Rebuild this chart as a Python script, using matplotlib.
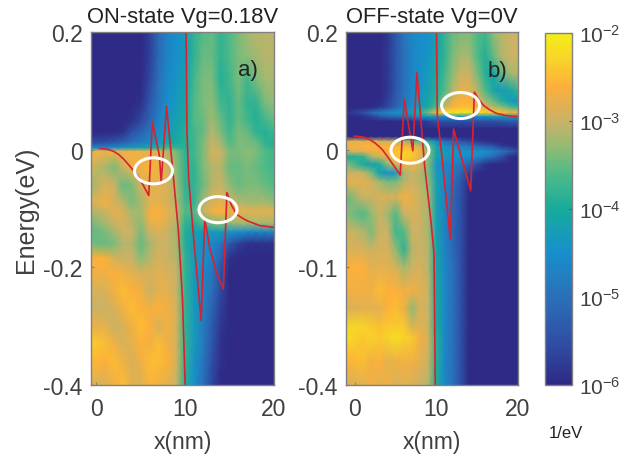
import numpy as np
import matplotlib
matplotlib.use("Agg")
import matplotlib.pyplot as plt
from matplotlib.colors import LinearSegmentedColormap
from matplotlib.patches import Ellipse

plt.rcParams['font.family'] = ['Liberation Sans', 'DejaVu Sans']
plt.rcParams['mathtext.default'] = 'regular'

# log10(LDOS), columns are x = 0..20 nm #
x_cols = [-1.2, 1, 2, 3, 4, 5, 6, 7, 8, 9, 10, 11, 12, 13, 14, 15, 16, 17, 18, 19, 20]

e_a = [0.2, 0.16, 0.12, 0.08, 0.05, 0.03, 0.012, 0.003, -0.003, -0.03, -0.06, -0.09, -0.105,
       -0.125, -0.14, -0.16, -0.185, -0.21, -0.24, -0.27, -0.3, -0.33, -0.36, -0.4]
ldos_a = [
    [-6, -6, -6, -6, -6, -6, -5.7, -5.1, -4.7, -4.5, -4.3, -3.8, -3.6, -3.5, -3.8, -3.6, -3.4, -3.2, -3.1, -3.1, -3.1],
    [-6, -6, -6, -6, -6, -6, -5.7, -5.1, -4.7, -4.5, -4.3, -3.8, -3.5, -3.5, -3.8, -3.6, -3.4, -3.3, -3.2, -3.1, -3.1],
    [-6, -6, -6, -6, -6, -6, -5.6, -5.0, -4.6, -4.4, -4.2, -3.7, -3.4, -3.4, -3.9, -3.7, -3.4, -3.7, -3.4, -3.2, -3.2],
    [-6, -6, -6, -6, -6, -5.9, -5.4, -4.9, -4.5, -4.3, -4.1, -3.6, -3.4, -3.3, -3.7, -3.8, -3.5, -3.8, -3.8, -3.4, -3.3],
    [-6, -6, -6, -6, -5.9, -5.6, -5.2, -4.7, -4.4, -4.2, -4.0, -3.6, -3.5, -3.2, -3.5, -3.8, -3.5, -3.7, -3.9, -3.7, -3.5],
    [-6, -6, -6, -5.9, -5.5, -5.2, -4.9, -4.5, -4.3, -4.1, -3.9, -3.7, -3.5, -3.1, -3.4, -3.7, -3.4, -3.5, -3.8, -3.9, -3.7],
    [-5.6, -5.5, -5.4, -5.2, -5.0, -4.8, -4.6, -4.3, -4.1, -4.0, -3.9, -3.7, -3.4, -3.0, -3.2, -3.6, -3.4, -3.4, -3.5, -3.8, -3.9],
    [-4.6, -4.6, -4.5, -4.4, -4.3, -4.2, -4.1, -3.9, -3.7, -3.8, -3.9, -3.7, -3.4, -3.0, -3.1, -3.5, -3.4, -3.4, -3.4, -3.7, -3.8],
    [-2.7, -2.7, -2.7, -2.7, -2.7, -2.7, -2.8, -2.9, -3.1, -3.4, -3.8, -3.7, -3.4, -2.9, -3.0, -3.4, -3.4, -3.3, -3.4, -3.6, -3.7],
    [-2.8, -3.2, -3.4, -3.0, -2.7, -2.7, -2.6, -2.7, -2.9, -3.3, -3.8, -3.8, -3.4, -3.1, -3.1, -3.5, -3.5, -3.4, -3.5, -3.6, -3.7],
    [-3.3, -2.9, -3.0, -3.5, -3.4, -2.9, -2.8, -2.8, -2.9, -3.2, -3.8, -3.8, -3.5, -3.1, -3.0, -3.3, -3.5, -3.4, -3.4, -3.5, -3.6],
    [-3.0, -2.7, -2.9, -3.1, -3.4, -3.2, -2.8, -2.8, -2.9, -3.1, -3.7, -3.8, -3.2, -2.9, -2.8, -3.0, -3.1, -3.2, -3.2, -3.2, -3.3],
    [-3.2, -3.0, -2.8, -2.9, -3.2, -3.2, -2.7, -2.6, -2.8, -3.0, -3.6, -3.6, -3.0, -2.7, -2.6, -2.7, -2.8, -2.8, -2.8, -2.8, -2.8],
    [-3.5, -3.2, -3.0, -2.9, -3.1, -3.3, -2.8, -2.7, -2.9, -3.1, -3.8, -3.9, -3.6, -3.4, -3.3, -3.3, -3.2, -3.2, -3.2, -3.2, -3.2],
    [-3.6, -3.4, -3.2, -3.0, -3.0, -3.4, -3.0, -2.9, -3.0, -3.2, -3.9, -4.2, -4.3, -4.3, -4.3, -4.4, -4.5, -4.6, -4.7, -4.7, -4.7],
    [-3.4, -3.5, -3.4, -3.1, -3.1, -3.5, -3.2, -3.0, -3.0, -3.2, -3.9, -4.3, -4.5, -4.6, -4.9, -5.4, -5.7, -5.9, -5.9, -5.9, -5.9],
    [-2.6, -2.6, -2.9, -3.0, -3.0, -3.3, -3.1, -2.9, -3.0, -3.1, -3.8, -4.3, -4.5, -4.7, -5.2, -5.9, -6, -6, -6, -6, -6],
    [-2.7, -2.7, -2.6, -2.7, -2.8, -2.9, -2.9, -2.8, -2.9, -3.0, -3.8, -4.3, -4.6, -4.9, -5.5, -6, -6, -6, -6, -6, -6],
    [-2.9, -2.9, -2.7, -2.5, -2.6, -2.7, -3.0, -2.8, -2.8, -3.0, -3.8, -4.3, -4.7, -5.0, -5.6, -6, -6, -6, -6, -6, -6],
    [-3.0, -3.0, -2.9, -2.7, -2.5, -2.6, -2.7, -2.6, -2.7, -2.9, -3.8, -4.3, -4.7, -5.2, -5.7, -6, -6, -6, -6, -6, -6],
    [-2.7, -2.8, -3.0, -2.9, -2.7, -2.5, -2.6, -2.9, -2.7, -2.9, -3.8, -4.3, -4.8, -5.3, -5.8, -6, -6, -6, -6, -6, -6],
    [-2.3, -2.5, -2.7, -2.9, -2.8, -2.6, -2.7, -2.5, -2.7, -2.9, -3.8, -4.3, -4.8, -5.4, -5.9, -6, -6, -6, -6, -6, -6],
    [-2.5, -2.6, -2.5, -2.7, -2.9, -2.7, -2.5, -2.5, -2.6, -2.9, -3.8, -4.4, -4.9, -5.5, -5.9, -6, -6, -6, -6, -6, -6],
    [-2.8, -2.9, -2.7, -2.5, -2.8, -2.9, -2.6, -2.7, -2.8, -3.0, -3.9, -4.5, -5.0, -5.6, -6, -6, -6, -6, -6, -6, -6],
]

e_b = [0.2, 0.16, 0.13, 0.1, 0.082, 0.072, 0.063, 0.056, 0.048, 0.035, 0.022, 0.014, 0.006, -0.003, -0.012,
       -0.025, -0.04, -0.055, -0.08, -0.11, -0.14, -0.17, -0.2, -0.24, -0.27, -0.3, -0.32, -0.36, -0.4]
ldos_b = [
    [-6, -6, -6, -6, -5.8, -5.4, -4.9, -4.6, -4.5, -4.5, -4.2, -3.8, -3.5, -3.4, -3.4, -3.6, -3.7, -3.3, -3.1, -3.0, -3.0],
    [-6, -6, -6, -6, -5.8, -5.4, -5.0, -4.7, -4.5, -4.4, -4.1, -3.8, -3.4, -3.2, -3.2, -3.6, -3.9, -3.5, -3.1, -3.0, -3.0],
    [-6, -6, -6, -6, -5.8, -5.4, -5.0, -4.7, -4.5, -4.3, -4.0, -3.7, -3.3, -3.0, -3.0, -3.4, -3.9, -4.1, -3.5, -3.2, -3.1],
    [-6, -6, -6, -6, -5.8, -5.4, -5.0, -4.6, -4.4, -4.2, -3.9, -3.6, -3.1, -2.8, -2.8, -3.1, -3.6, -4.1, -4.3, -4.1, -3.8],
    [-6, -6, -6, -6, -5.7, -5.3, -4.9, -4.6, -4.3, -4.1, -3.8, -3.3, -2.8, -2.6, -2.6, -2.8, -3.2, -3.5, -3.9, -4.3, -4.4],
    [-6, -6, -6, -5.8, -5.6, -5.2, -4.8, -4.5, -4.2, -4.0, -3.6, -3.0, -2.6, -2.5, -2.5, -2.6, -2.9, -3.1, -3.3, -3.6, -3.8],
    [-5.9, -5.5, -5.1, -4.8, -4.6, -4.5, -4.4, -4.2, -3.9, -3.4, -2.6, -2.2, -2.1, -2.1, -2.1, -2.2, -2.3, -2.4, -2.5, -2.6, -2.7],
    [-6, -5.9, -5.7, -5.4, -5.2, -5.1, -5.0, -4.8, -4.5, -4.3, -4.4, -4.5, -4.5, -4.5, -4.5, -4.5, -4.4, -4.3, -4.3, -4.3, -4.4],
    [-6, -6, -6, -6, -6, -6, -6, -5.9, -5.8, -5.7, -5.5, -5.5, -5.5, -5.5, -5.5, -5.5, -5.5, -5.5, -5.4, -5.3, -5.3],
    [-6, -6, -6, -6, -6, -6, -6, -6, -6, -6, -6, -6, -6, -6, -6, -6, -6, -6, -6, -6, -6],
    [-6, -6, -6, -6, -6, -6, -6, -6, -6, -6, -6, -6, -6, -6, -6, -6, -6, -6, -6, -6, -6],
    [-2.8, -2.8, -2.8, -2.9, -3.0, -3.1, -3.2, -3.4, -3.6, -3.9, -4.6, -5.0, -5.2, -5.4, -5.6, -5.8, -5.9, -6, -6, -6, -6],
    [-2.7, -2.6, -2.6, -2.6, -2.6, -2.6, -2.6, -2.7, -3.0, -3.5, -4.2, -4.5, -4.7, -4.8, -4.9, -5.1, -5.3, -5.5, -5.8, -5.9, -6],
    [-3.0, -2.8, -2.7, -2.7, -2.6, -2.4, -2.3, -2.4, -2.7, -3.3, -4.1, -4.3, -4.4, -4.4, -4.4, -4.4, -4.5, -4.7, -4.9, -5.2, -5.6],
    [-4.0, -3.8, -3.2, -2.9, -2.8, -2.5, -2.3, -2.4, -2.8, -3.3, -4.2, -4.3, -4.4, -4.5, -4.5, -4.6, -4.8, -5.1, -5.5, -5.9, -6],
    [-3.3, -4.0, -4.2, -4.0, -3.3, -2.9, -2.7, -2.7, -2.9, -3.4, -4.4, -4.6, -4.7, -4.9, -5.2, -5.5, -5.9, -6, -6, -6, -6],
    [-3.0, -3.0, -3.4, -4.2, -4.5, -4.3, -3.2, -3.0, -3.1, -3.4, -4.3, -4.6, -4.9, -5.2, -5.7, -6, -6, -6, -6, -6, -6],
    [-2.8, -2.8, -2.9, -3.2, -3.4, -3.4, -3.1, -3.0, -3.1, -3.3, -4.2, -4.6, -5.0, -5.4, -5.9, -6, -6, -6, -6, -6, -6],
    [-3.5, -3.0, -3.0, -2.9, -2.9, -2.9, -2.7, -2.8, -3.0, -3.2, -4.2, -4.7, -5.1, -5.5, -6, -6, -6, -6, -6, -6, -6],
    [-3.3, -3.6, -3.3, -3.0, -3.2, -3.6, -3.0, -2.9, -3.0, -3.2, -4.2, -4.7, -5.1, -5.5, -6, -6, -6, -6, -6, -6, -6],
    [-2.9, -3.1, -3.4, -3.0, -3.0, -3.7, -3.6, -3.0, -3.0, -3.2, -4.2, -4.7, -5.1, -5.5, -6, -6, -6, -6, -6, -6, -6],
    [-2.9, -2.9, -3.0, -2.9, -2.9, -3.3, -3.8, -3.1, -3.0, -3.1, -4.1, -4.7, -5.1, -5.5, -6, -6, -6, -6, -6, -6, -6],
    [-2.6, -2.6, -2.8, -2.8, -2.8, -2.9, -3.2, -3.0, -2.9, -3.1, -4.1, -4.6, -5.0, -5.5, -6, -6, -6, -6, -6, -6, -6],
    [-2.7, -2.7, -2.7, -2.5, -2.6, -2.6, -2.7, -2.7, -2.8, -3.0, -4.0, -4.6, -5.0, -5.5, -6, -6, -6, -6, -6, -6, -6],
    [-2.9, -2.8, -2.8, -2.8, -2.6, -2.5, -2.7, -3.3, -2.9, -3.0, -4.0, -4.6, -5.0, -5.5, -6, -6, -6, -6, -6, -6, -6],
    [-2.3, -2.3, -2.4, -2.5, -2.4, -2.4, -2.4, -2.9, -2.8, -3.0, -4.0, -4.6, -5.0, -5.5, -6, -6, -6, -6, -6, -6, -6],
    [-2.2, -2.4, -2.3, -2.4, -2.3, -2.2, -2.3, -2.4, -2.7, -2.9, -3.9, -4.6, -5.0, -5.5, -6, -6, -6, -6, -6, -6, -6],
    [-2.6, -2.5, -2.7, -2.6, -2.8, -2.7, -2.7, -2.7, -2.8, -3.0, -3.9, -4.6, -5.0, -5.5, -6, -6, -6, -6, -6, -6, -6],
    [-2.9, -2.8, -2.7, -2.8, -2.7, -2.9, -2.8, -2.9, -3.0, -3.1, -4.0, -4.6, -5.0, -5.5, -6, -6, -6, -6, -6, -6, -6],
]

# band edge, it is broken in two pieces at the 10 nm barrier #
band_a1_x = [0.37, 1.2, 1.95, 2.5, 3.07, 3.6, 4.2, 4.8, 5.3, 5.9, 6.3, 7.1, 7.3, 7.9, 8.7, 9.25, 9.7, 10.0]
band_a1_e = [0.002, 0.001, -0.003, -0.008, -0.016, -0.025, -0.036, -0.048, -0.061, -0.078, 0.047, -0.010, -0.055, 0.074, -0.05, -0.141, -0.254, -0.4]
band_a2_x = [10.1, 10.2, 10.4, 10.9, 11.8, 12.2, 12.8, 13.5, 14.3, 14.7, 15.2, 15.8, 16.4, 17.0, 18.4, 19.9]
band_a2_e = [0.2, 0.03, -0.05, -0.141, -0.291, -0.118, -0.169, -0.208, -0.237, -0.073, -0.094, -0.11, -0.116, -0.121, -0.129, -0.132]
band_b1_x = [-0.08, 0.8, 1.65, 2.5, 3.3, 3.9, 4.5, 5.0, 5.55, 6.05, 7.1, 7.6, 8.55, 9.3, 9.7, 9.85]
band_b1_e = [0.023, 0.022, 0.0185, 0.011, 0.001, -0.01, -0.022, -0.032, -0.043, 0.086, -0.002, 0.131, -0.028, -0.119, -0.176, -0.4]
band_b2_x = [10.0, 10.1, 10.7, 11.7, 12.1, 14.2, 14.65, 15.2, 15.8, 16.5, 17.3, 18.5, 20.0]
band_b2_e = [0.2, 0.058, -0.016, -0.152, 0.035, -0.07, 0.098, 0.085, 0.075, 0.068, 0.062, 0.058, 0.056]

rings_a = [(6.44, -0.036), (13.7, -0.102)]
rings_b = [(6.75, -0.001), (12.96, 0.075)]

yticks = [0.2, 0, -0.2, -0.4]
ylabels_a = ['0.2', '0', '-0.2', '-0.4']
ylabels_b = ['0.2', '0', '-0.1', '-0.4']   # yes, the original says -0.1 here
xticks = [0, 10, 20]
cb_ticks = [-6, -5, -4, -3, -2]
cb_labels = ['10$^{-6}$', '10$^{-5}$', '10$^{-4}$', '10$^{-3}$', '10$^{-2}$']

# colours taken from the colorbar of the figure #
cmap = LinearSegmentedColormap.from_list('parula_ish', [
    (0.0, '#2e2a85'), (0.12, '#2f4ea6'), (0.25, '#2b70b8'), (0.38, '#1790cc'),
    (0.5, '#17ab9c'), (0.6, '#4fba88'), (0.68, '#94bb74'), (0.75, '#c9b266'),
    (0.85, '#fdb03a'), (0.93, '#f8d528'), (1.0, '#f4ee1a')])

TXT = '#404040'
EDGE = '#808080'
W, H = 624, 460


def panel(box, xlim, e, ldos, bands, rings, ylabels, title):
    ax = fig.add_axes([box[0] / W, 1 - box[3] / H, (box[2] - box[0]) / W, (box[3] - box[1]) / H])
    ax.pcolormesh(x_cols, e, np.array(ldos), shading='gouraud', cmap=cmap, vmin=-6, vmax=-2, rasterized=True)
    for bx, be in bands:
        ax.plot(bx, be, color='#d8232f', lw=1.2)
    # ring size is the same in pixels on both panels #
    xs = (box[2] - box[0]) / (xlim[1] - xlim[0])
    for r in rings:
        ax.add_patch(Ellipse(r, 38 / xs, 26 / 588, fc='none', ec='white', lw=2.2, zorder=5))
    ax.set_xlim(xlim)
    ax.set_ylim(-0.4, 0.2)
    ax.set_xticks(xticks)
    ax.set_yticks(yticks)
    ax.set_yticklabels(ylabels)
    ax.tick_params(direction='in', length=2, width=0.8, color=EDGE, labelsize=16.5, labelcolor=TXT)
    ax.tick_params(axis='x', pad=9)
    ax.tick_params(axis='y', pad=6)
    for s in ax.spines.values():
        s.set_color(EDGE)
        s.set_linewidth(1.0)
    ax.set_xlabel('x(nm)', fontsize=16.5, color=TXT, labelpad=6.5)
    ax.set_title(title, fontsize=15.8, color='#222222', pad=7.5)
    return ax


fig = plt.figure(figsize=(W / 100, H / 100), dpi=100)

ax_a = panel((91, 33, 274, 386), (-0.6, 20), e_a, ldos_a, [(band_a1_x, band_a1_e), (band_a2_x, band_a2_e)],
             rings_a, ylabels_a, 'ON-state Vg=0.18V')
ax_b = panel((346, 33, 518, 386), (-1.1, 20), e_b, ldos_b, [(band_b1_x, band_b1_e), (band_b2_x, band_b2_e)],
             rings_b, ylabels_b, 'OFF-state Vg=0V')
ax_a.set_ylabel('Energy(eV)', fontsize=18, color=TXT, labelpad=4)
ax_a.text(17.1, 0.137, 'a)', fontsize=16, color='#222222', ha='center', va='center')
ax_b.text(17.5, 0.135, 'b)', fontsize=16, color='#222222', ha='center', va='center')

cax = fig.add_axes([545 / W, 1 - 386 / H, 27 / W, 352 / H])
cb = fig.colorbar(plt.cm.ScalarMappable(matplotlib.colors.Normalize(-6, -2), cmap), cax=cax)
cb.set_ticks(cb_ticks)
cb.set_ticklabels(cb_labels)
cb.ax.tick_params(direction='in', length=2, width=0.8, color='#555555', labelsize=15, labelcolor=TXT, pad=5)
cb.outline.set_edgecolor(EDGE)
cb.outline.set_linewidth(1.0)
fig.text(566 / W, 1 - 434 / H, '1/eV', fontsize=12, color='#222222', ha='center', va='center')

fig.savefig('out.png', dpi=100)
